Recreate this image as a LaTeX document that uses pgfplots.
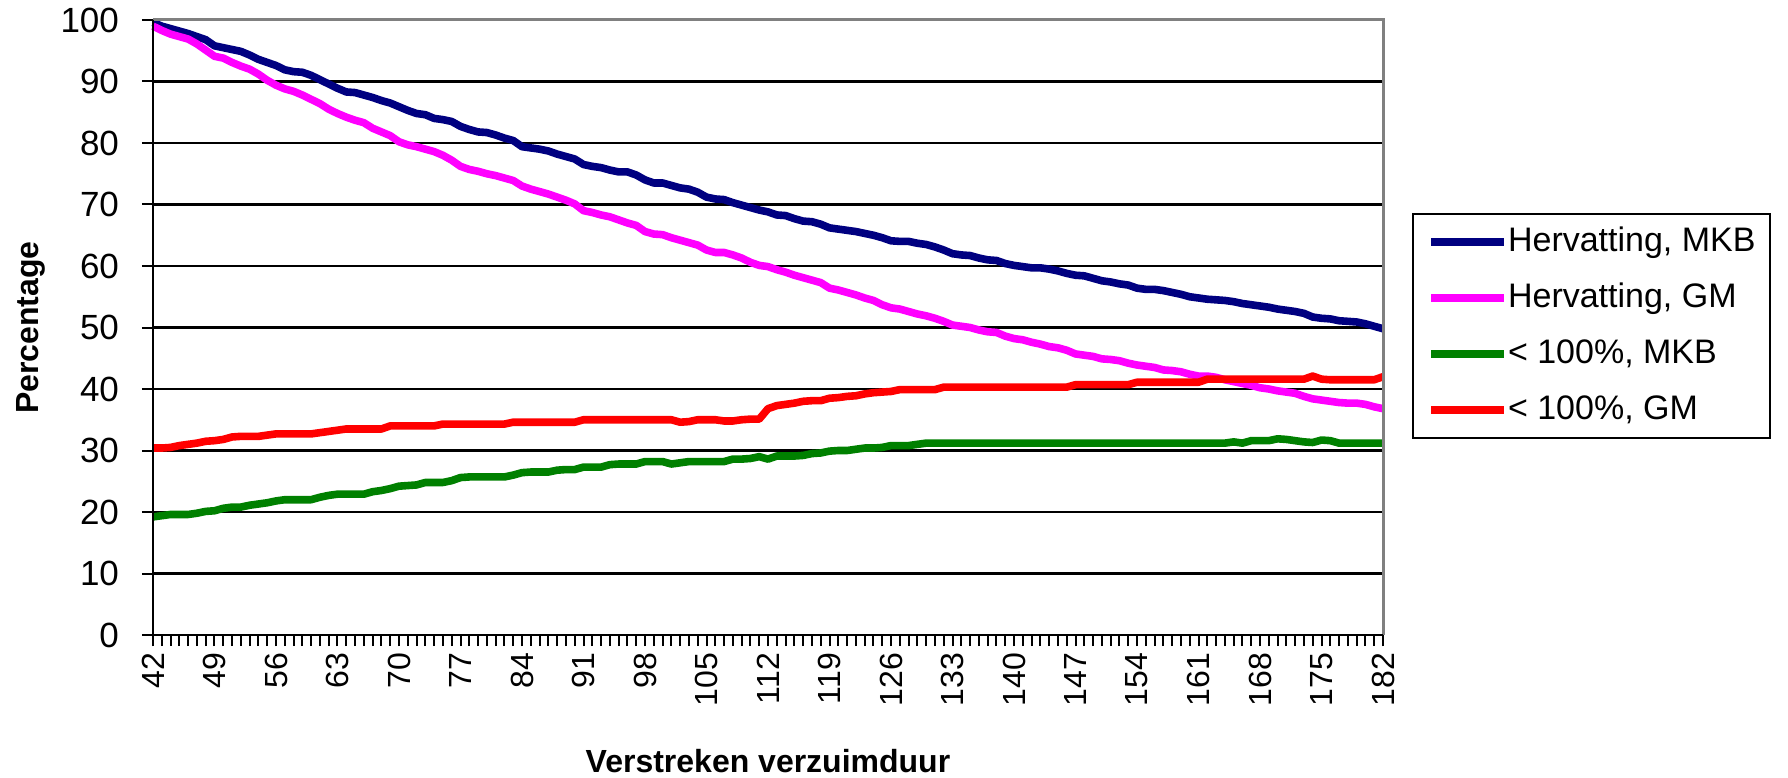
\documentclass[border=0pt]{standalone}
\usepackage{fontspec}
\setmainfont{Liberation Sans}
\usepackage{pgfplots}
\usepackage{pgfplotstable}
\pgfplotsset{compat=1.18}
\definecolor{cnavy}{RGB}{0,0,128}
\definecolor{cmag}{RGB}{255,0,255}
\definecolor{cgreen}{RGB}{0,128,0}
\definecolor{cred}{RGB}{255,0,0}
\definecolor{cborder}{RGB}{128,128,128}

\pgfplotstableread{
day mkb gm lmkb lgm
42 99.6 99.0 19.2 30.4
43 99.0 98.3 19.4 30.4
44 98.6 97.7 19.6 30.5
45 98.2 97.3 19.6 30.8
46 97.8 96.9 19.6 31.0
47 97.3 96.1 19.8 31.2
48 96.8 95.1 20.1 31.5
49 95.8 94.1 20.2 31.6
50 95.5 93.8 20.6 31.8
51 95.2 93.1 20.8 32.2
52 94.9 92.5 20.8 32.3
53 94.3 92.0 21.1 32.3
54 93.6 91.2 21.3 32.3
55 93.1 90.2 21.5 32.5
56 92.6 89.4 21.8 32.7
57 91.9 88.8 22.0 32.7
58 91.6 88.4 22.0 32.7
59 91.5 87.8 22.0 32.7
60 91.0 87.1 22.0 32.7
61 90.3 86.4 22.4 32.9
62 89.6 85.5 22.7 33.1
63 88.9 84.8 22.9 33.3
64 88.3 84.2 22.9 33.5
65 88.2 83.7 22.9 33.5
66 87.8 83.3 22.9 33.5
67 87.4 82.4 23.3 33.5
68 86.9 81.8 23.5 33.5
69 86.5 81.2 23.8 34.0
70 85.9 80.2 24.2 34.0
71 85.3 79.7 24.3 34.0
72 84.8 79.4 24.4 34.0
73 84.6 79.0 24.8 34.0
74 84.0 78.6 24.8 34.0
75 83.8 78.0 24.8 34.3
76 83.5 77.2 25.1 34.3
77 82.7 76.2 25.6 34.3
78 82.2 75.7 25.7 34.3
79 81.8 75.4 25.7 34.3
80 81.7 75.0 25.7 34.3
81 81.3 74.7 25.7 34.3
82 80.8 74.3 25.7 34.3
83 80.4 73.9 26.0 34.6
84 79.4 73.0 26.4 34.6
85 79.2 72.5 26.5 34.6
86 79.0 72.1 26.5 34.6
87 78.7 71.7 26.5 34.6
88 78.2 71.2 26.8 34.6
89 77.8 70.7 26.9 34.6
90 77.4 70.1 26.9 34.6
91 76.5 69.0 27.3 35.0
92 76.2 68.7 27.3 35.0
93 76.0 68.3 27.3 35.0
94 75.6 68.0 27.7 35.0
95 75.3 67.5 27.8 35.0
96 75.3 67.0 27.8 35.0
97 74.8 66.6 27.8 35.0
98 74.0 65.6 28.2 35.0
99 73.5 65.2 28.2 35.0
100 73.5 65.1 28.2 35.0
101 73.1 64.6 27.8 35.0
102 72.7 64.2 28.0 34.6
103 72.5 63.8 28.2 34.7
104 72.0 63.4 28.2 35.0
105 71.2 62.6 28.2 35.0
106 70.9 62.2 28.2 35.0
107 70.8 62.2 28.2 34.8
108 70.3 61.8 28.6 34.8
109 69.9 61.3 28.6 35.0
110 69.5 60.6 28.7 35.1
111 69.1 60.1 29.0 35.1
112 68.8 59.9 28.6 36.8
113 68.3 59.4 29.1 37.3
114 68.2 59.0 29.1 37.5
115 67.7 58.5 29.1 37.7
116 67.3 58.1 29.2 38.0
117 67.2 57.7 29.5 38.1
118 66.8 57.3 29.6 38.1
119 66.2 56.4 29.9 38.5
120 66.0 56.1 30.0 38.6
121 65.8 55.7 30.0 38.8
122 65.6 55.3 30.2 38.9
123 65.3 54.8 30.4 39.2
124 65.0 54.4 30.4 39.4
125 64.6 53.7 30.5 39.5
126 64.1 53.2 30.8 39.6
127 64.0 53.0 30.8 39.9
128 64.0 52.6 30.8 39.9
129 63.7 52.2 31.0 39.9
130 63.5 51.9 31.2 39.9
131 63.1 51.5 31.2 39.9
132 62.6 51.0 31.2 40.3
133 62.0 50.4 31.2 40.3
134 61.8 50.2 31.2 40.3
135 61.7 50.0 31.2 40.3
136 61.3 49.6 31.2 40.3
137 61.0 49.3 31.2 40.3
138 60.9 49.2 31.2 40.3
139 60.4 48.6 31.2 40.3
140 60.1 48.2 31.2 40.3
141 59.9 48.0 31.2 40.3
142 59.7 47.6 31.2 40.3
143 59.7 47.3 31.2 40.3
144 59.5 46.9 31.2 40.3
145 59.2 46.7 31.2 40.3
146 58.8 46.3 31.2 40.3
147 58.5 45.7 31.2 40.7
148 58.4 45.5 31.2 40.7
149 58.0 45.3 31.2 40.7
150 57.6 44.9 31.2 40.7
151 57.4 44.8 31.2 40.7
152 57.1 44.6 31.2 40.7
153 56.9 44.2 31.2 40.7
154 56.4 43.9 31.2 41.1
155 56.2 43.7 31.2 41.1
156 56.2 43.5 31.2 41.1
157 56.0 43.1 31.2 41.1
158 55.7 43.0 31.2 41.1
159 55.4 42.8 31.2 41.1
160 55.0 42.4 31.2 41.1
161 54.8 42.1 31.2 41.1
162 54.6 42.1 31.2 41.6
163 54.5 41.9 31.2 41.6
164 54.4 41.5 31.2 41.6
165 54.2 41.2 31.4 41.6
166 53.9 40.9 31.2 41.6
167 53.7 40.6 31.6 41.6
168 53.5 40.2 31.6 41.6
169 53.3 40.0 31.6 41.6
170 53.0 39.7 31.9 41.6
171 52.8 39.5 31.8 41.6
172 52.6 39.3 31.6 41.6
173 52.3 38.8 31.4 41.6
174 51.7 38.4 31.3 42.1
175 51.5 38.2 31.7 41.6
176 51.4 38.0 31.6 41.5
177 51.1 37.8 31.2 41.5
178 51.0 37.7 31.2 41.5
179 50.9 37.7 31.2 41.5
180 50.6 37.5 31.2 41.5
181 50.2 37.1 31.2 41.5
182 49.8 36.8 31.2 42.0
}\datatable

\begin{document}
\begin{tikzpicture}
\useasboundingbox (-76.5pt,-71pt) rectangle (817.5pt,317.5pt);
\begin{axis}[
  at={(0,0)}, anchor=south west,
  width=615pt, height=307.5pt, scale only axis,
  xmin=42, xmax=182, ymin=0, ymax=100,
  clip=false,
  xtick={42,49,...,182},
  minor xtick={42,...,182},
  ytick={0,10,...,100},
  tick pos=left,
  tick align=outside,
  major tick length=5.5pt,
  minor tick length=5.5pt,
  tick style={black, line width=1pt},
  ymajorgrids,
  major grid style={black, line width=1.1pt},
  axis line style={draw=none},
  /pgf/number format/assume math mode=true,
  yticklabel style={font=\fontsize{17.5}{17.5}\selectfont, anchor=east, xshift=-8pt},
  xticklabel style={font=\fontsize{16}{16}\selectfont, rotate=90, anchor=east},
  xlabel={Verstreken verzuimduur},
  xlabel style={font=\bfseries\fontsize{16}{16}\selectfont, at={(axis description cs:0.5,-0.205)}, anchor=center},
  ylabel={Percentage},
  ylabel style={font=\bfseries\fontsize{16}{16}\selectfont, at={(axis description cs:-0.0995,0.5)}, anchor=center},
  legend style={at={(axis description cs:1.0236,0.686)}, anchor=north west,
    draw=black, line width=1pt, font=\fontsize{17}{17}\selectfont,
    inner xsep=7pt, inner ysep=5.5pt, row sep=11pt,
    nodes={inner sep=0pt, text height=13pt, text depth=4pt},
    /tikz/every even column/.append style={column sep=5pt}},
  legend cell align=left,
  legend image code/.code={\draw[#1, line width=4pt] (0pt,0pt) -- (36.5pt,0pt);},
  every axis plot/.append style={line width=3.8pt, line join=round, no markers},
]
\addplot[cnavy] table[x=day, y=mkb] {\datatable};
\addlegendentry{Hervatting, MKB}
\addplot[cmag] table[x=day, y=gm] {\datatable};
\addlegendentry{Hervatting, GM}
\addplot[cgreen] table[x=day, y=lmkb] {\datatable};
\addlegendentry{< 100\%, MKB}
\addplot[cred] table[x=day, y=lgm] {\datatable};
\addlegendentry{< 100\%, GM}
\draw[cborder, line width=1.5pt] (rel axis cs:0,1) -- (rel axis cs:1,1) -- (rel axis cs:1,0);
\draw[black, line width=1pt] (rel axis cs:0,1) -- (rel axis cs:0,0) -- (rel axis cs:1,0);
\end{axis}
\end{tikzpicture}
\end{document}
